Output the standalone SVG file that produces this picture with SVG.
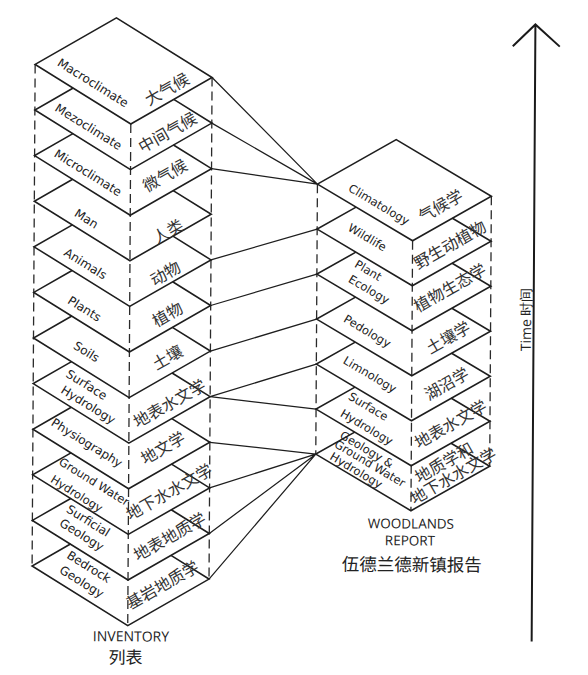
<svg xmlns="http://www.w3.org/2000/svg" width="588" height="675" viewBox="0 0 588 675">
<style>
.ln{fill:none;stroke:#1e1e1e;stroke-width:1.6;stroke-linejoin:miter}
.dash{fill:none;stroke:#2a2a2a;stroke-width:1.3;stroke-dasharray:9 5}
.cn{fill:none;stroke:#1e1e1e;stroke-width:1.25}
.en{font-family:"DejaVu Sans",Verdana,sans-serif;font-size:12px;fill:#222;text-anchor:middle}
.en2{font-family:"DejaVu Sans",Verdana,sans-serif;font-size:11.5px;fill:#222;text-anchor:middle}
.zh{font-family:"Noto Sans CJK SC",sans-serif;fill:#333;text-anchor:middle;font-size:16px}
.ttl{font-family:"Open Sans","DejaVu Sans",sans-serif;fill:#222;text-anchor:middle}
.ttlzh{font-family:"Noto Sans CJK SC",sans-serif;fill:#222;text-anchor:middle}
</style>
<rect width="588" height="675" fill="#fff"/>
<g transform="rotate(0.35 294 337)">
<g id="inventory">
<path class="dash" d="M33.5,66 V567.6 M129.5,125 V626.6 M210.5,78 V579.6"/>
<g id="l-macroclimate"><path class="ln" d="M33.5,66 L114.5,19 L210.5,78 L129.5,125 Z"/>
<text class="en" transform="translate(91.5 84) rotate(31.6)" dy=".35em">Macroclimate</text>
<text class="zh" transform="translate(165.5 90) rotate(-30)" dy=".36em" font-size="16.5">大气候</text></g>
<g id="l-mezoclimate"><path class="ln" d="M71.7,89.4 L33.5,111.6 L129.5,170.6 L210.5,123.6 L172.3,100.1"/>
<text class="en" transform="translate(87.2 128) rotate(31.6)" dy=".35em">Mezoclimate</text>
<text class="zh" transform="translate(166.3 133.3) rotate(-30)" dy=".36em" font-size="16.5">中间气候</text></g>
<g id="l-microclimate"><path class="ln" d="M71.7,135 L33.5,157.2 L129.5,216.2 L210.5,169.2 L172.3,145.7"/>
<text class="en" transform="translate(87 174) rotate(31.6)" dy=".35em">Microclimate</text>
<text class="zh" transform="translate(164 176.3) rotate(-30)" dy=".36em">微气候</text></g>
<g id="l-man"><path class="ln" d="M71.7,180.6 L33.5,202.8 L129.5,261.8 L210.5,214.8 L172.3,191.3"/>
<text class="en" transform="translate(85.8 220) rotate(31.6)" dy=".35em">Man</text>
<text class="zh" transform="translate(167.4 232.3) rotate(-30)" dy=".36em">人类</text></g>
<g id="l-animals"><path class="ln" d="M71.7,226.2 L33.5,248.4 L129.5,307.4 L210.5,260.4 L172.3,236.9"/>
<text class="en" transform="translate(85 265) rotate(31.6)" dy=".35em">Animals</text>
<text class="zh" transform="translate(165.1 274.3) rotate(-30)" dy=".36em">动物</text></g>
<g id="l-plants"><path class="ln" d="M71.7,271.8 L33.5,294 L129.5,353 L210.5,306 L172.3,282.5"/>
<text class="en" transform="translate(84.3 310) rotate(31.6)" dy=".35em">Plants</text>
<text class="zh" transform="translate(167.4 315.3) rotate(-30)" dy=".36em">植物</text></g>
<g id="l-soils"><path class="ln" d="M71.7,317.4 L33.5,339.6 L129.5,398.6 L210.5,351.6 L172.3,328.1"/>
<text class="en" transform="translate(86.6 353) rotate(31.6)" dy=".35em">Soils</text>
<text class="zh" transform="translate(167.6 358.3) rotate(-30)" dy=".36em">土壤</text></g>
<g id="l-surface-hydrology"><path class="ln" d="M71.7,363 L33.5,385.2 L129.5,444.2 L210.5,397.2 L172.3,373.7"/>
<text class="en" transform="translate(87 386) rotate(31.6)" dy=".35em">Surface</text>
<text class="en" transform="translate(88.7 406) rotate(31.6)" dy=".35em">Hydrology</text>
<text class="zh" transform="translate(169.9 404.3) rotate(-30)" dy=".36em" font-size="15.5">地表水文学</text></g>
<g id="l-physiography"><path class="ln" d="M71.7,408.6 L33.5,430.8 L129.5,489.8 L210.5,442.8 L172.3,419.3"/>
<text class="en" transform="translate(87.6 444) rotate(31.6)" dy=".35em">Physiography</text>
<text class="zh" transform="translate(163.7 448.8) rotate(-30)" dy=".36em">地文学</text></g>
<g id="l-ground-water"><path class="ln" d="M71.7,454.2 L33.5,476.4 L129.5,535.4 L210.5,488.4 L172.3,464.9"/>
<text class="en2" transform="translate(95 483) rotate(31.6)" dy=".35em">Ground Water</text>
<text class="en2" transform="translate(77.7 495) rotate(31.6)" dy=".35em">Hydrology</text>
<text class="zh" transform="translate(170 492.8) rotate(-30)" dy=".36em" font-size="14">地下水水文学</text></g>
<g id="l-surficial-geology"><path class="ln" d="M71.7,499.8 L33.5,522 L129.5,581 L210.5,534 L172.3,510.5"/>
<text class="en" transform="translate(89.4 522) rotate(31.6)" dy=".35em">Surficial</text>
<text class="en" transform="translate(82.9 536) rotate(31.6)" dy=".35em">Geology</text>
<text class="zh" transform="translate(171 537.5) rotate(-30)" dy=".36em" font-size="15.5">地表地质学</text></g>
<g id="l-bedrock-geology"><path class="ln" d="M71.7,545.4 L33.5,567.6 L129.5,626.6 L210.5,579.6 L172.3,556.1"/>
<text class="en" transform="translate(90.4 568) rotate(31.6)" dy=".35em">Bedrock</text>
<text class="en" transform="translate(83.2 583) rotate(31.6)" dy=".35em">Geology</text>
<text class="zh" transform="translate(164 585.8) rotate(-30)" dy=".36em" font-size="14.5">基岩地质学</text></g>
<g id="inventory-title">
<text class="ttl" x="132.8" y="637.5" dy=".35em" font-size="14">INVENTORY</text>
<text class="ttlzh" x="127.5" y="658.5" dy=".36em" font-size="17">列表</text></g>
</g>
<g id="woodlands-report">
<path class="dash" d="M316.5,184 V454 M412,240 V510 M490.5,195 V465"/>
<g id="r-climatology"><path class="ln" d="M316.5,184 L395,139 L490.5,195 L412,240 Z"/>
<text class="en2" transform="translate(378.2 204) rotate(30.4)" dy=".35em">Climatology</text>
<text class="zh" transform="translate(439.9 205) rotate(-30)" dy=".36em" font-size="16.5">气候学</text></g>
<g id="r-wildlife"><path class="ln" d="M355.3,206.8 L316.5,229 L412,285 L490.5,240 L451.7,217.3"/>
<text class="en2" transform="translate(366.7 237) rotate(30.4)" dy=".35em">Wildlife</text>
<text class="zh" transform="translate(449.5 244) rotate(-30)" dy=".36em" font-size="15">野生动植物</text></g>
<g id="r-plant-ecology"><path class="ln" d="M355.3,251.8 L316.5,274 L412,330 L490.5,285 L451.7,262.3"/>
<text class="en2" transform="translate(367.9 270) rotate(30.4)" dy=".35em">Plant</text>
<text class="en2" transform="translate(368.7 289) rotate(30.4)" dy=".35em">Ecology</text>
<text class="zh" transform="translate(449.7 287) rotate(-30)" dy=".36em" font-size="15">植物生态学</text></g>
<g id="r-pedology"><path class="ln" d="M355.3,296.8 L316.5,319 L412,375 L490.5,330 L451.7,307.3"/>
<text class="en2" transform="translate(367.3 330.7) rotate(30.4)" dy=".35em">Pedology</text>
<text class="zh" transform="translate(448.3 336.7) rotate(-30)" dy=".36em">土壤学</text></g>
<g id="r-limnology"><path class="ln" d="M355.3,341.8 L316.5,364 L412,420 L490.5,375 L451.7,352.3"/>
<text class="en2" transform="translate(370.2 374) rotate(30.4)" dy=".35em">Limnology</text>
<text class="zh" transform="translate(447 383) rotate(-30)" dy=".36em" font-size="17">湖沼学</text></g>
<g id="r-surface-hydrology"><path class="ln" d="M355.3,386.8 L316.5,409 L412,465 L490.5,420 L451.7,397.3"/>
<text class="en2" transform="translate(368.7 406) rotate(30.4)" dy=".35em">Surface</text>
<text class="en2" transform="translate(367.2 426.7) rotate(30.4)" dy=".35em">Hydrology</text>
<text class="zh" transform="translate(451.2 423.3) rotate(-30)" dy=".36em" font-size="15">地表水文学</text></g>
<g id="r-geology-ground-water"><path class="ln" d="M355.3,431.8 L316.5,454 L412,510 L490.5,465 L451.7,442.3"/>
<text class="en2" transform="translate(367.5 449) rotate(30.4)" dy=".35em">Geology &amp;</text>
<text class="en2" transform="translate(370.8 463) rotate(30.4)" dy=".35em">Ground Water</text>
<text class="en2" transform="translate(357 470) rotate(30.4)" dy=".35em">Hydrology</text>
<text class="zh" transform="translate(444.8 461.7) rotate(-30)" dy=".36em" font-size="14.5">地质学和</text>
<text class="zh" transform="translate(454.1 475) rotate(-30)" dy=".36em" font-size="14">地下水水文学</text></g>
<g id="woodlands-title">
<text class="ttl" x="412.1" y="523" dy=".35em" font-size="13.5">WOODLANDS</text>
<text class="ttl" x="411.2" y="540" dy=".35em" font-size="13.5">REPORT</text>
<text class="ttlzh" x="413.1" y="564" dy=".36em" font-size="17.5">伍德兰德新镇报告</text></g>
</g>
<g id="connectors">
<path class="cn" d="M210.5,78 L316.5,184 M210.5,123.6 L316.5,184 M210.5,169.2 L316.5,184 M210.5,260.4 L316.5,229 M210.5,306 L316.5,274 M210.5,351.6 L316.5,319 M210.5,397.2 L316.5,364 M210.5,397.2 L316.5,409 M210.5,442.8 L316.5,454 M210.5,488.4 L316.5,454 M210.5,534 L316.5,454 M210.5,579.6 L316.5,454"/>
</g>
<g id="time-axis">
<path fill="none" stroke="#1a1a1a" stroke-width="2" d="M533.5,640 V23 M511,45 L533.5,23 L558,45"/>
<text class="ttl" transform="translate(526 318) rotate(-90)" dy=".35em" font-size="14">Time 时间</text>
</g>
</g>
</svg>
